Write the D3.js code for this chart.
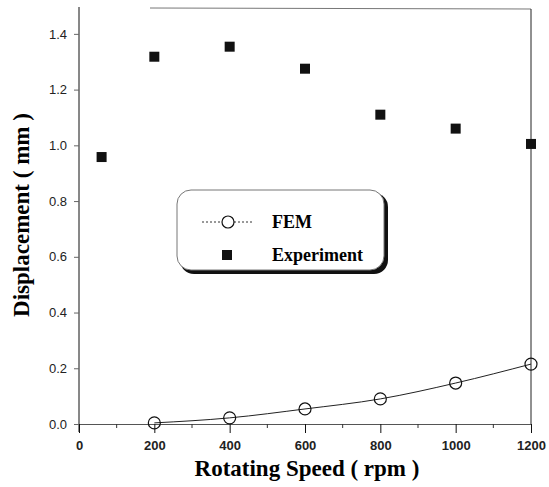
<!DOCTYPE html>
<html>
<head>
<meta charset="utf-8">
<script src="https://cdn.jsdelivr.net/npm/d3@7"></script>
<style>
  body { margin: 0; background: #fff; }
  svg { display: block; }
</style>
</head>
<body>
<svg id="chart" width="549" height="487"></svg>
<script>
// data
var femSpeed = [200, 400, 600, 800, 1000, 1200];
var femDisp = [0.004, 0.022, 0.054, 0.09, 0.147, 0.215];
var expSpeed = [60, 200, 400, 600, 800, 1000, 1200];
var expDisp = [0.958, 1.318, 1.354, 1.275, 1.11, 1.06, 1.005];
var xTicks = [0, 200, 400, 600, 800, 1000, 1200];
var xMinor = [100, 300, 500, 700, 900, 1100];
var yTicks = [0, 0.2, 0.4, 0.6, 0.8, 1.0, 1.2, 1.4];

var svg = d3.select("#chart");
var x = d3.scaleLinear().domain([0, 1200]).range([79, 531]);
var y = d3.scaleLinear().domain([0, 1.5]).range([424, 6]);

// frame: top and right
svg.append("line")
    .attr("x1", 150).attr("x2", 531).attr("y1", 8).attr("y2", 9)
    .attr("stroke", "#777").attr("stroke-width", 1);
svg.append("line")
    .attr("x1", 531).attr("x2", 531).attr("y1", 9).attr("y2", 424)
    .attr("stroke", "#222").attr("stroke-width", 1);

// x axis
var xAxis = svg.append("g")
    .attr("transform", "translate(0,424)")
    .call(d3.axisBottom(x).tickValues(xTicks).tickSize(9).tickFormat(d3.format("d")));
xAxis.select(".domain").attr("stroke", "#555");
xAxis.selectAll(".tick line").attr("stroke", "#111");
xAxis.selectAll("text")
    .attr("font-family", "Liberation Sans, Arial, sans-serif")
    .attr("font-size", 13).attr("font-weight", "bold").attr("fill", "#222")
    .attr("y", 22).attr("dy", "0.32em");
svg.selectAll(".xminor")
    .data(xMinor)
    .enter().append("line")
        .attr("class", "xminor")
        .attr("x1", function(d) { return x(d); })
        .attr("x2", function(d) { return x(d); })
        .attr("y1", 424).attr("y2", 428)
        .attr("stroke", "#333");

// y axis
var yAxis = svg.append("g")
    .attr("transform", "translate(79,0)")
    .call(d3.axisLeft(y).tickValues(yTicks).tickSize(5).tickFormat(d3.format(".1f")));
yAxis.select(".domain").attr("d", "M0,7V432").attr("stroke", "#111");
yAxis.selectAll(".tick line").attr("stroke", "#666");
yAxis.selectAll("text")
    .attr("font-family", "Liberation Sans, Arial, sans-serif")
    .attr("font-size", 13).attr("fill", "#222")
    .attr("x", -12);

// FEM curve
var fem = femSpeed.map(function(s, i) { return [s, femDisp[i]]; });
svg.append("path")
    .datum(fem)
    .attr("fill", "none")
    .attr("stroke", "#222")
    .attr("stroke-width", 1)
    .attr("d", d3.line()
        .x(function(d) { return x(d[0]); })
        .y(function(d) { return y(d[1]); })
        .curve(d3.curveMonotoneX));
svg.selectAll(".fem")
    .data(fem)
    .enter().append("circle")
        .attr("class", "fem")
        .attr("cx", function(d) { return x(d[0]); })
        .attr("cy", function(d) { return y(d[1]); })
        .attr("r", 6)
        .attr("fill", "none")
        .attr("stroke", "#111")
        .attr("stroke-width", 1.2);

// experiment squares
svg.selectAll(".exp")
    .data(expSpeed.map(function(s, i) { return [s, expDisp[i]]; }))
    .enter().append("rect")
        .attr("class", "exp")
        .attr("x", function(d) { return x(d[0]) - 5; })
        .attr("y", function(d) { return y(d[1]) - 5; })
        .attr("width", 10).attr("height", 10)
        .attr("fill", "#111");

// legend with drop shadow
var lg = svg.append("g");
lg.append("rect")
    .attr("x", 180).attr("y", 193).attr("width", 208).attr("height", 81)
    .attr("rx", 14).attr("fill", "#111");
lg.append("rect")
    .attr("x", 177).attr("y", 190).attr("width", 207).attr("height", 80)
    .attr("rx", 14).attr("fill", "#fff")
    .attr("stroke", "#777").attr("stroke-width", 1);
lg.append("line")
    .attr("x1", 202).attr("x2", 253).attr("y1", 222).attr("y2", 222)
    .attr("stroke", "#333").attr("stroke-dasharray", "2,2");
lg.append("circle")
    .attr("cx", 228).attr("cy", 222).attr("r", 6)
    .attr("fill", "#fff").attr("stroke", "#111").attr("stroke-width", 1.2);
lg.append("rect")
    .attr("x", 222).attr("y", 250).attr("width", 10).attr("height", 10)
    .attr("fill", "#111");
lg.append("text")
    .attr("x", 272).attr("y", 228)
    .attr("font-family", "Liberation Serif, Times New Roman, serif")
    .attr("font-size", 18).attr("font-weight", "bold")
    .text("FEM");
lg.append("text")
    .attr("x", 272).attr("y", 261)
    .attr("font-family", "Liberation Serif, Times New Roman, serif")
    .attr("font-size", 18).attr("font-weight", "bold")
    .text("Experiment");

// axis titles
svg.append("text")
    .attr("x", 307).attr("y", 476)
    .attr("text-anchor", "middle")
    .attr("font-family", "Liberation Serif, Times New Roman, serif")
    .attr("font-size", 23).attr("font-weight", "bold")
    .text("Rotating Speed ( rpm )");
svg.append("text")
    .attr("transform", "translate(29,215) rotate(-90)")
    .attr("text-anchor", "middle")
    .attr("font-family", "Liberation Serif, Times New Roman, serif")
    .attr("font-size", 23).attr("font-weight", "bold")
    .text("Displacement ( mm )");
</script>
</body>
</html>
